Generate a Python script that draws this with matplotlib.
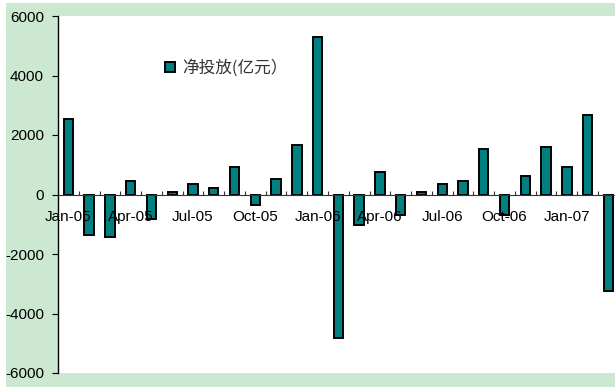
import numpy as np
import matplotlib
matplotlib.use('Agg')
import matplotlib.pyplot as plt

plt.rcParams['font.family'] = ['Liberation Sans', 'Noto Sans CJK SC', 'DejaVu Sans']

# monthly net injection, Jan-05 .. Mar-07
months = ['Jan-05', 'Feb-05', 'Mar-05', 'Apr-05', 'May-05', 'Jun-05', 'Jul-05', 'Aug-05', 'Sep-05',
          'Oct-05', 'Nov-05', 'Dec-05', 'Jan-06', 'Feb-06', 'Mar-06', 'Apr-06', 'May-06', 'Jun-06',
          'Jul-06', 'Aug-06', 'Sep-06', 'Oct-06', 'Nov-06', 'Dec-06', 'Jan-07', 'Feb-07', 'Mar-07']
net_injection = [2540, -1360, -1430, 470, -820, 80, 350, 215, 940,
                 -350, 530, 1680, 5290, -4830, -1020, 740, -680, 80,
                 350, 470, 1540, -680, 610, 1610, 940, 2680, -3230]
series_name = '净投放(亿元）'
y_ticks = [-6000, -4000, -2000, 0, 2000, 4000, 6000]

W, H = 615, 387
fig = plt.figure(figsize=(W / 100, H / 100), dpi=100, facecolor='white')

# light green frame behind the plot area
bg = fig.add_axes([6 / W, 0, 1, 1 - 3 / H], zorder=0)
bg.set_facecolor('#cce8d0')
bg.set_xticks([])
bg.set_yticks([])
for s in bg.spines.values():
    s.set_visible(False)

cat_w = 20.77
ax = fig.add_axes([58 / W, 14 / H, 27 * cat_w / W, (373 - 16) / H], zorder=1)
ax.set_facecolor('white')

x = np.arange(len(months))
bars = ax.bar(x, net_injection, width=0.45, color='#008080', edgecolor='black',
              linewidth=1.4, label=series_name, zorder=2)
# axis on top so the month labels show over the bars, as in the original
ax.set_axisbelow(False)

ax.set_xlim(-0.5, len(months) - 0.5)
ax.set_ylim(-6000, 6000)

for s in ['top', 'right']:
    ax.spines[s].set_visible(False)
ax.spines['bottom'].set_position(('data', 0))
ax.spines['bottom'].set_linewidth(0.8)
ax.spines['bottom'].set_color('#333333')
ax.spines['left'].set_linewidth(1.0)

ax.set_yticks(y_ticks)
ax.set_yticklabels([str(v) for v in y_ticks], fontsize=11)
ax.tick_params(axis='y', direction='out', length=4, width=0.8, pad=6)

ax.set_xticks(x[::3])
ax.set_xticklabels(months[::3], fontsize=11)
ax.set_xticks(np.arange(len(months)) + 0.5, minor=True)
ax.tick_params(axis='x', which='major', length=0, pad=11)
ax.tick_params(axis='x', which='minor', direction='in', length=3, width=0.8, color='#333333')

ax.legend(loc='center left', bbox_to_anchor=(0.176, 0.854), frameon=False,
          handlelength=0.6, handleheight=0.6, handletextpad=0.4, borderpad=0,
          prop={'family': ['Noto Sans CJK SC', 'DejaVu Sans'], 'size': 12}, labelcolor='#333333')

fig.savefig('out.png', dpi=100, facecolor='white')
